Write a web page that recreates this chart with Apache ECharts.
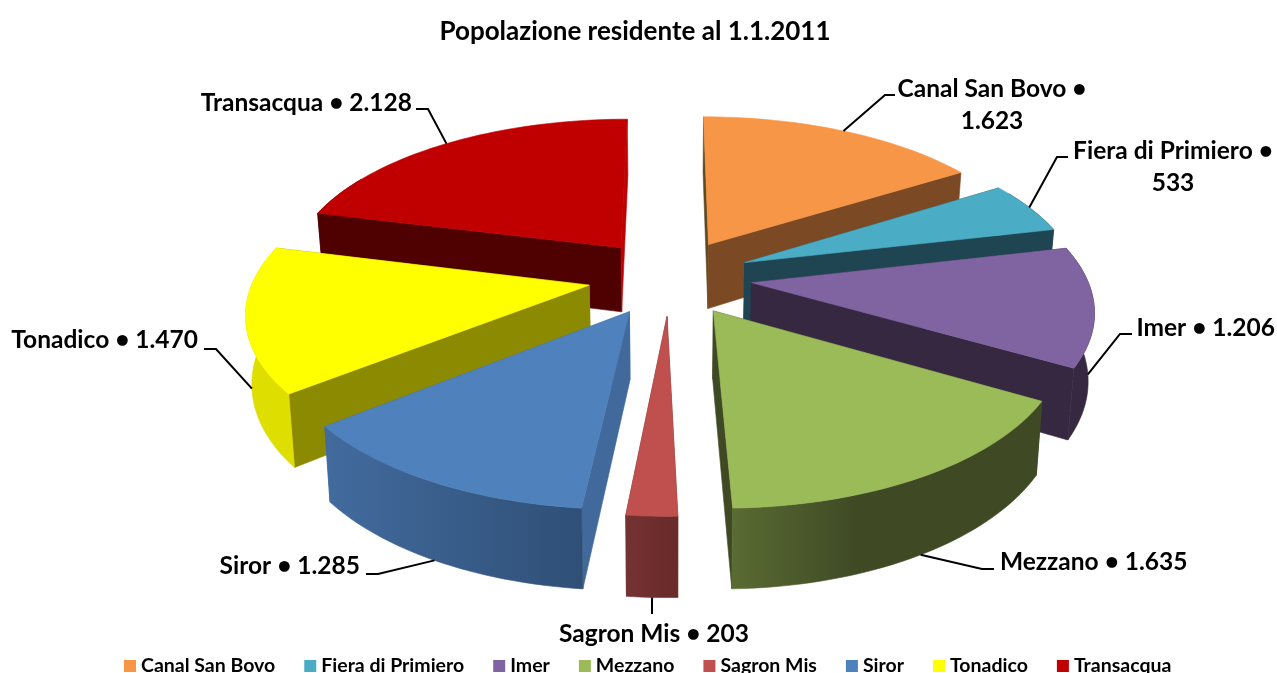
<!DOCTYPE html>
<html><head><meta charset="utf-8">
<script src="https://cdn.jsdelivr.net/npm/echarts@6/dist/echarts.min.js"></script>
<style>html,body{margin:0;padding:0;background:#fff;overflow:hidden}#c{width:1277px;height:673px}</style>
</head><body><div id="c"></div>
<script>
const categories = ['Canal San Bovo','Fiera di Primiero','Imer','Mezzano','Sagron Mis','Siror','Tonadico','Transacqua'];
const residents  = [1623,533,1206,1635,203,1285,1470,2128];
const chartTitle = 'Popolazione residente al 1.1.2011';

const topColors  = ['#f79646','#4bacc6','#8064a2','#9bbb59','#c0504d','#4f81bd','#ffff00','#c00000'];
const cutStartColors = ['#5e4a20','#1f4552','#352840','#3f4a25','#722f2f','#41699b','#8c8a00','#4f0000'];
const cutEndColors   = ['#7b4a24','#1f4552','#352840','#3f4a25','#722f2f','#41699b','#8c8a00','#c00000'];
const arcColors  = [['#7b4a24','#7b4a24'],['#1f4552','#1f4552'],['#352840','#352840'],['#5a6b33','#3f4a25'],['#753232','#692a2a'],['#426b9e','#2f4f76'],['#dede00','#dede00'],['#4f0000','#4f0000']];
const drawOrder  = [0,7,1,6,2,5,3,4];

// projection of the tilted disc
const G = {cx:670, cy:277, R:335, explode:82, tilt:0.466, persp:0.151, depth:66, baseScale:0.985};
// label anchor + leader elbows, per category
const labelLayout = [
  {x:992,  y:105, align:'center', lead:[[885,95],[895,95]], multi:true},
  {x:1173, y:167, align:'center', lead:[[1057,157],[1068,157]], multi:true},
  {x:1275, y:328, align:'right',  lead:[[1120,334],[1132,334]]},
  {x:1000, y:562, align:'left',   lead:[[982,569],[994,569]]},
  {x:654,  y:634, align:'center', lead:[[652,614]]},
  {x:360,  y:566, align:'right',  lead:[[378,574],[366,574]]},
  {x:198,  y:340, align:'right',  lead:[[216,349],[204,349]]},
  {x:412,  y:103, align:'right',  lead:[[428,109],[416,109]]}
];
const FONT = 'Lato';

const total = residents.reduce((a,b)=>a+b,0);
const startAngles = []; { let acc = 0; residents.forEach(v=>{ startAngles.push(acc/total*Math.PI*2); acc += v; }); }
function sliceAngles(i){ const a0 = startAngles[i], a1 = a0 + residents[i]/total*Math.PI*2; return [a0,a1,(a0+a1)/2]; }
function project(u,v,bottom){
  const s = 1/(1 - G.persp*v/G.R);
  const xs = bottom ? G.baseScale : 1;
  return [G.cx + u*s*xs, G.cy + v*G.tilt*s + (bottom ? G.depth*s : 0)];
}
function planePoint(i,a,r){
  const m = sliceAngles(i)[2];
  return [G.explode*Math.sin(m) + r*Math.sin(a), -G.explode*Math.cos(m) - r*Math.cos(a)];
}
function pt(i,a,r,bottom){ const p = planePoint(i,a,r); return project(p[0],p[1],bottom); }
function poly(points, fill){
  return {type:'polygon', shape:{points}, style:{fill, stroke:fill, lineWidth:0.6}};
}
function renderSlice(i){
  return function(){
    const [a0,a1] = sliceAngles(i);
    const n = Math.max(6, Math.round((a1-a0)*40));
    const top=[], wallTop=[], wallBot=[];
    for(let k=0;k<=n;k++){
      const a=a0+(a1-a0)*k/n;
      top.push(pt(i,a,G.R,false));
      if(Math.cos(a) < 0.5){ wallTop.push(pt(i,a,G.R,false)); wallBot.push(pt(i,a,G.R,true)); }
    }
    const apexT = pt(i,a0,0,false), apexB = pt(i,a0,0,true);
    const grad = new echarts.graphic.LinearGradient(0,0,1,0,[
      {offset:0, color: arcColors[i][0]},
      {offset: i===3 ? 0.4 : 1, color: arcColors[i][1]},
      {offset:1, color: arcColors[i][1]}]);
    const faces = [
      poly([apexT,top[0],pt(i,a0,G.R,true),apexB], cutStartColors[i]),
      poly([apexT,top[n],pt(i,a1,G.R,true),apexB], cutEndColors[i])
    ];
    if(wallTop.length > 1) faces.push(poly(wallTop.concat(wallBot.slice().reverse()), grad));
    faces.push(poly([apexT].concat(top), topColors[i]));
    return {type:'group', children:faces};
  };
}
function formatValue(v){ return String(v).replace(/\B(?=(\d{3})+$)/g,'.'); }
function renderLabel(params, api){
  const i = api.value(0), L = labelLayout[i];
  const m = sliceAngles(i)[2];
  const anchor = pt(i,m,G.R, Math.cos(m) <= 0);
  const text = categories[i] + ' \u2022' + (L.multi ? '\n' : ' ') + formatValue(api.value(1));
  return {type:'group', children:[
    {type:'polyline', shape:{points:[anchor].concat(L.lead)}, style:{fill:null, stroke:'#000', lineWidth:2}},
    {type:'text', x:L.x, y:L.y, style:{text, fill:'#000', font:'bold 24.5px '+FONT, textAlign:L.align, textVerticalAlign:'middle', lineHeight:32}}
  ]};
}
const series = categories.map((name,i)=>({
  type:'custom', name, coordinateSystem:'none', silent:true, animation:false,
  z: 2 + drawOrder.indexOf(i), itemStyle:{color:topColors[i]},
  renderItem: renderSlice(i), data:[[residents[i]]]
}));
series.push({type:'custom', name:'Etichette', coordinateSystem:'none', silent:true, animation:false, z:30,
  renderItem: renderLabel, data: residents.map((v,i)=>[i,v])});

const chart = echarts.init(document.getElementById('c'), null, {renderer:'canvas'});
chart.setOption({
  animation:false, backgroundColor:'#fff',
  title:{text:chartTitle, left:630, top:14, textAlign:'center', textStyle:{fontFamily:FONT, fontWeight:'bold', fontSize:26, color:'#000'}},
  legend:{data:categories, left:119, top:651, itemWidth:12, itemHeight:12, itemGap:29, icon:'rect', selectedMode:false,
    textStyle:{fontFamily:FONT, fontWeight:'bold', fontSize:19.5, color:'#000'}},
  series
});
</script></body></html>
